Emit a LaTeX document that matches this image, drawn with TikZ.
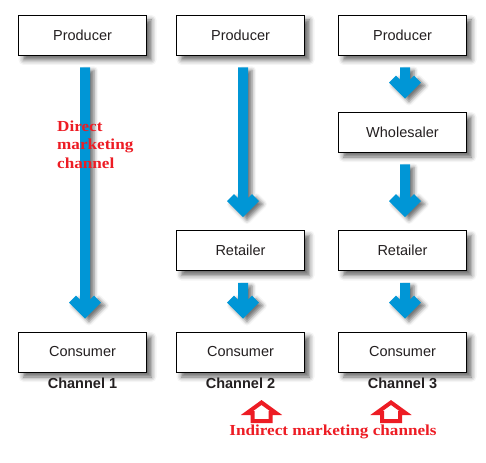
\documentclass[tikz,border=0pt]{standalone}
\usepackage{fontspec}
\setmainfont{Liberation Sans}
\newfontfamily\redserif[FakeStretch=1.12]{Liberation Serif}
\usetikzlibrary{calc,shadows.blur}
\definecolor{txt}{HTML}{231F20}
\definecolor{flowblue}{HTML}{0096D6}
\definecolor{markred}{HTML}{ED1C24}
\tikzset{
  box/.style={draw=black, line width=0.8pt, fill=white, minimum width=128pt,
    minimum height=40pt, inner sep=0pt, font=\fontsize{14.5}{17}\selectfont, text=txt,
    blur shadow={shadow xshift=5pt, shadow yshift=-5pt, shadow blur radius=5pt, shadow opacity=60}},
  chan/.style={font=\fontsize{14.5}{17}\selectfont\bfseries, text=txt, inner sep=0pt},
  redlabel/.style={font=\redserif\bfseries\fontsize{15.3}{18}\selectfont, text=markred, inner sep=0pt},
  flow/.style={fill=flowblue,
    blur shadow={shadow xshift=4pt, shadow yshift=-3pt, shadow blur radius=4pt, shadow opacity=55}},
  hollowup/.style={draw=markred, fill=white, line width=4pt, line join=miter}
}
\newcommand\flowarrow[2]{%
  \path[flow] let \p1=($(#1.south)+(2.5pt,-12pt)$), \p2=($(#2.north)+(2.5pt,14pt)$) in
    (\x1+5pt,\y1) -- (\x1+5pt,\y2+18pt) -- (\x1+9pt,\y2+22pt) -- (\x1+16pt,\y2+15pt)
    -- (\x1,\y2-1pt) -- (\x1-16pt,\y2+15pt) -- (\x1-9pt,\y2+22pt) -- (\x1-5pt,\y2+18pt)
    -- (\x1-5pt,\y1) -- cycle;}
\newcommand\redup[1]{%
  \path[hollowup] (#1,402.5) -- (#1+14.5,413) -- (#1+9,413) -- (#1+9,421)
    -- (#1-9,421) -- (#1-9,413) -- (#1-14.5,413) -- cycle;}
\begin{document}
\begin{tikzpicture}[x=1pt,y=-1pt]
  \useasboundingbox (0,0) rectangle (486,462);
  % channel 1
  \node[box] (p1) at (82.5,35) {Producer};
  \node[box] (c1) at (82.5,352) {Consumer};
  % channel 2
  \node[box] (p2) at (240.5,35) {Producer};
  \node[box] (r2) at (240.5,250.5) {Retailer};
  \node[box] (c2) at (240.5,352) {Consumer};
  % channel 3
  \node[box] (p3) at (402.5,35) {Producer};
  \node[box] (w3) at (402.5,132) {Wholesaler};
  \node[box] (r3) at (402.5,250.5) {Retailer};
  \node[box] (c3) at (402.5,352) {Consumer};
  % flows
  \flowarrow{p1}{c1}
  \flowarrow{p2}{r2}
  \flowarrow{r2}{c2}
  \flowarrow{p3}{w3}
  \flowarrow{w3}{r3}
  \flowarrow{r3}{c3}
  % channel labels
  \node[chan] (l1) at ($(c1.south)+(0pt,-11pt)$) {Channel 1};
  \node[chan] (l2) at ($(c2.south)+(0pt,-11pt)$) {Channel 2};
  \node[chan] (l3) at ($(c3.south)+(0pt,-11pt)$) {Channel 3};
  % red annotations
  \node[redlabel, anchor=base west, align=left] (direct) at (57,168) {Direct\\marketing\\channel};
  \redup{261.5}
  \redup{391}
  \node[redlabel] (indirect) at (333,432) {Indirect marketing channels};
\end{tikzpicture}
\end{document}
